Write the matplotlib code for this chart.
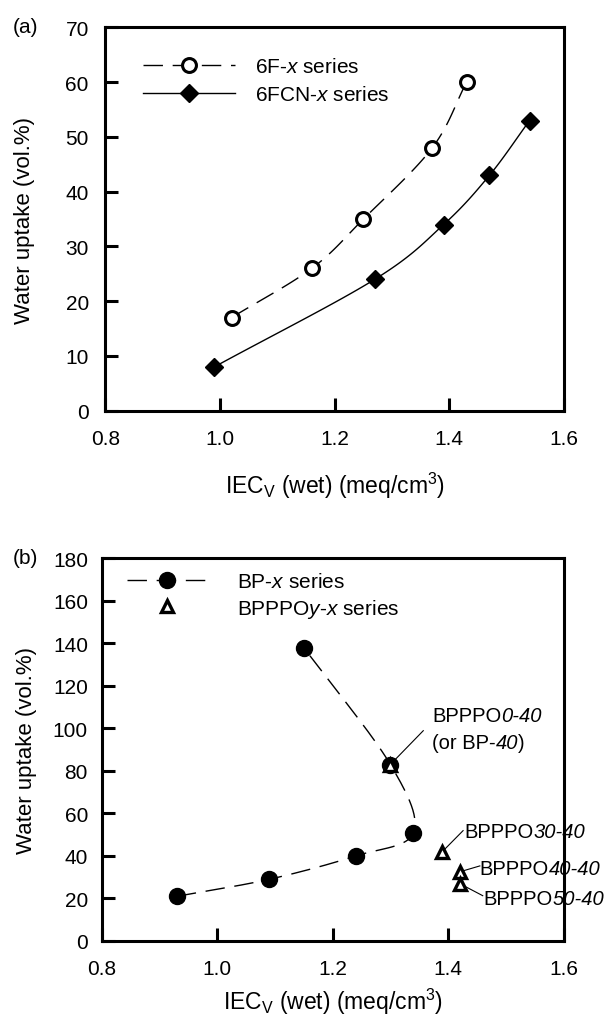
import numpy as np
import matplotlib
matplotlib.use("Agg")
import matplotlib.pyplot as plt
from matplotlib.lines import Line2D

plt.rcParams['font.family'] = ['Liberation Sans', 'DejaVu Sans']
plt.rcParams['mathtext.fontset'] = 'custom'
plt.rcParams['mathtext.rm'] = 'Liberation Sans'
plt.rcParams['mathtext.it'] = 'Liberation Sans:italic'

# panel (a)
f6_iec = [1.02, 1.16, 1.25, 1.37, 1.43]
f6_wu = [17, 26, 35, 48, 60]
fcn_iec = [0.99, 1.27, 1.39, 1.47, 1.54]
fcn_wu = [8, 24, 34, 43, 53]

# panel (b)
bp_iec = [0.93, 1.09, 1.24, 1.34, 1.30, 1.15]
bp_wu = [21, 29, 40, 51, 83, 138]
bpppo_iec = [1.30, 1.39, 1.42, 1.42]
bpppo_wu = [83, 42, 32.5, 27]
# label pieces: (text, italic)
bpppo_names = [[[("BPPPO", False), ("0-40", True)], [("(or BP-", False), ("40", True), (")", False)]],
               [[("BPPPO", False), ("30-40", True)]],
               [[("BPPPO", False), ("40-40", True)]],
               [[("BPPPO", False), ("50-40", True)]]]
# text baseline (left end of first line) and leader-line end
bpppo_text = [(1.372, 103.4), (1.428, 48.9), (1.455, 31.4), (1.461, 17.3)]
bpppo_lead = [(1.357, 98.9), (1.426, 51.9), (1.455, 35.3), (1.460, 21.3)]


def smooth(xs, ys, n=30):
    # Catmull-Rom curve through the points
    p = np.column_stack([xs, ys]).astype(float)
    p = np.vstack([2 * p[0] - p[1], p, 2 * p[-1] - p[-2]])
    out = []
    t = np.linspace(0, 1, n)[:, None]
    for i in range(1, len(p) - 2):
        p0, p1, p2, p3 = p[i - 1], p[i], p[i + 1], p[i + 2]
        seg = 0.5 * ((2 * p1) + (-p0 + p2) * t + (2 * p0 - 5 * p1 + 4 * p2 - p3) * t ** 2
                     + (-p0 + 3 * p1 - 3 * p2 + p3) * t ** 3)
        out.append(seg)
    c = np.vstack(out)
    return c[:, 0], c[:, 1]


def curve(ax, xs, ys, ymax, **kw):
    # smooth in axes-normalised space so both directions weigh the same
    sx, sy = smooth(np.array(xs) / 0.8, np.array(ys) / ymax)
    ax.plot(sx * 0.8, sy * ymax, color='black', lw=1.0, **kw)


def style(ax, ymax, ystep, ypad, xlab_y, ylab_x):
    ax.set_xlim(0.8, 1.6)
    ax.set_ylim(0, ymax)
    ax.set_xticks([0.8, 1.0, 1.2, 1.4, 1.6])
    ax.set_yticks(np.arange(0, ymax + 1, ystep))
    ax.xaxis.set_major_formatter(plt.FormatStrFormatter('%.1f'))
    ax.tick_params(direction='in', length=9.5, width=2.2, labelsize=15)
    ax.tick_params(axis='x', pad=13)
    ax.tick_params(axis='y', pad=ypad)
    for s in ax.spines.values():
        s.set_linewidth(2.2)
    ax.set_xlabel(r"IEC$_\mathrm{V}$ (wet) (meq/cm$^3$)", fontsize=16.5)
    ax.set_ylabel("Water uptake (vol.%)", fontsize=16)
    ax.xaxis.set_label_coords(0.5, xlab_y)
    ax.yaxis.set_label_coords(ylab_x, 0.5)


def mixed_text(ax, x, y, pieces, size):
    prev = ax.text(x, y, pieces[0][0], fontsize=size, ha='left', va='baseline',
                   style='italic' if pieces[0][1] else 'normal', clip_on=False)
    for s, it in pieces[1:]:
        prev = ax.annotate(s, xy=(1, 0), xycoords=prev, ha='left', va='bottom',
                           fontsize=size, style='italic' if it else 'normal')


fig = plt.figure(figsize=(6.09, 10.2), dpi=100)
axa = fig.add_axes([0.1732, 0.5964, 0.7529, 0.3757])
axb = fig.add_axes([0.1672, 0.0765, 0.7581, 0.3752])

dash = (0, (14, 7))

# (a)
curve(axa, f6_iec, f6_wu, 70, linestyle=dash)
axa.plot(f6_iec, f6_wu, 'o', ms=10, mfc='white', mec='black', mew=2.2, linestyle='none')
curve(axa, fcn_iec, fcn_wu, 70)
axa.plot(fcn_iec, fcn_wu, 'D', ms=9.5, color='black', linestyle='none')
style(axa, 70, 10, 12, -0.155, -0.154)
ha = [Line2D([], [], color='black', lw=1.0, linestyle=dash, marker='o', ms=10,
             mfc='white', mec='black', mew=2.2),
      Line2D([], [], color='black', lw=1.0, marker='D', ms=9.5)]
axa.legend(ha, [r"6F-$\mathit{x}$ series", r"6FCN-$\mathit{x}$ series"],
           loc='center left', bbox_to_anchor=(0.082, 0.861), frameon=False,
           fontsize=15, handlelength=4.4, handletextpad=0.95, labelspacing=0.42,
           borderaxespad=0, borderpad=0)
fig.text(0.0213, 0.9735, "(a)", fontsize=15, va='center')

# (b)
curve(axb, bp_iec, bp_wu, 180, linestyle=dash)
axb.plot(bp_iec, bp_wu, 'o', ms=11.5, color='black', linestyle='none')
for xi, yi, (lx, ly) in zip(bpppo_iec, bpppo_wu, bpppo_lead):
    axb.plot([xi, lx], [yi, ly], color='black', lw=0.8, clip_on=False)
axb.plot(bpppo_iec, bpppo_wu, '^', ms=9, mfc='white', mec='black', mew=2.4, linestyle='none')
style(axb, 180, 20, 10, -0.118, -0.14)
hb = [Line2D([], [], color='black', lw=1.0, linestyle=dash, marker='o', ms=11.5),
      Line2D([], [], linestyle='none', marker='^', ms=9, mfc='white', mec='black', mew=2.4)]
axb.legend(hb, [r"BP-$\mathit{x}$ series", r"BPPPO$\mathit{y}$-$\mathit{x}$ series"],
           loc='center left', bbox_to_anchor=(0.054, 0.9017), frameon=False,
           fontsize=15, handlelength=3.85, handletextpad=1.45, labelspacing=0.27,
           borderaxespad=0, borderpad=0)

for lines, (tx, ty) in zip(bpppo_names, bpppo_text):
    for k, pieces in enumerate(lines):
        mixed_text(axb, tx, ty - k * 12.6, pieces, 14.5)
fig.text(0.0213, 0.4525, "(b)", fontsize=15, va='center')

fig.savefig("out.png", dpi=100)
